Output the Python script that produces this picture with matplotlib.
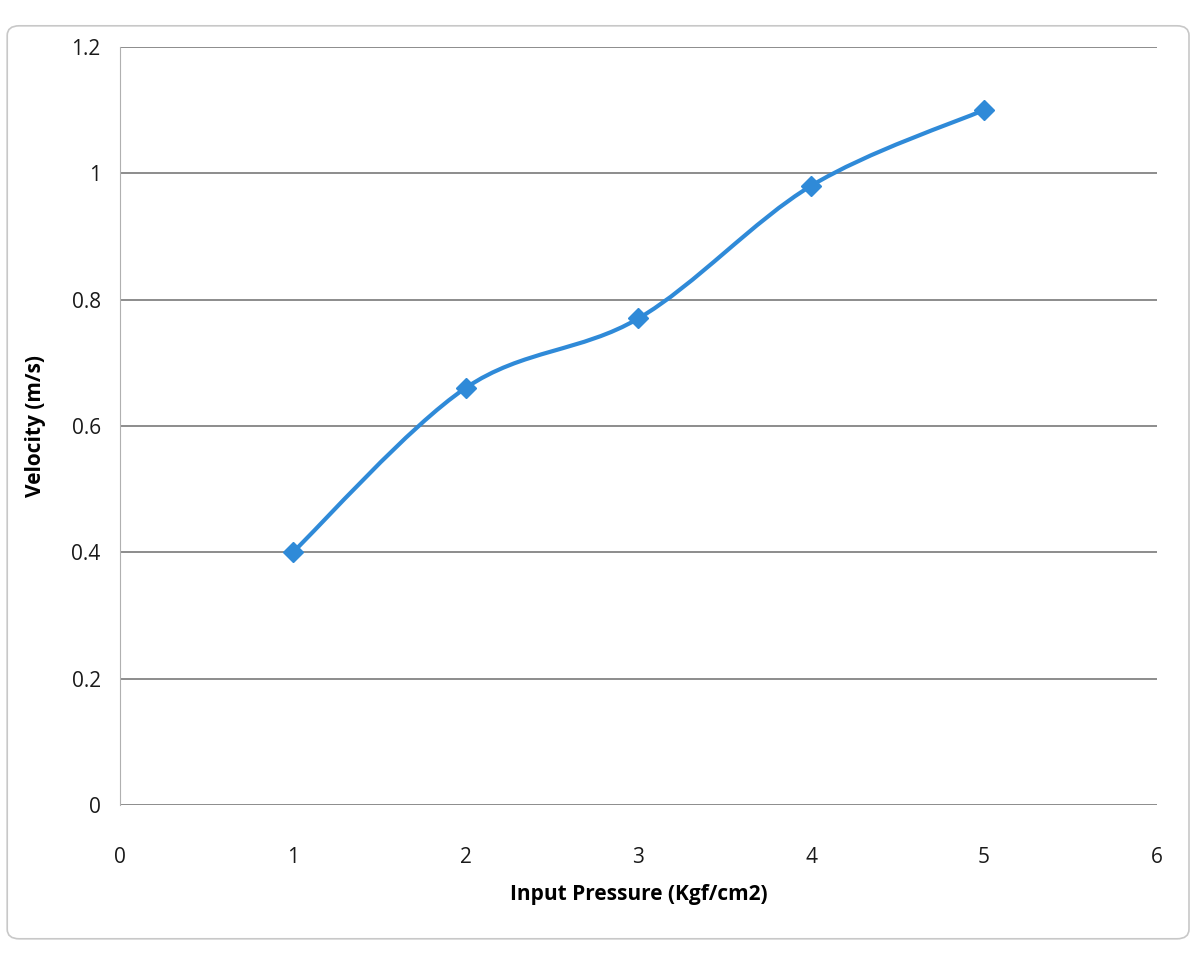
import matplotlib.pyplot as plt
from matplotlib.path import Path
from matplotlib.patches import PathPatch, FancyBboxPatch

pressure = [1, 2, 3, 4, 5]
velocity = [0.40, 0.66, 0.77, 0.98, 1.10]
x_ticks = [0, 1, 2, 3, 4, 5, 6]
y_ticks = [0, 0.2, 0.4, 0.6, 0.8, 1.0, 1.2]
y_tick_labels = ['0', '0.2', '0.4', '0.6', '0.8', '1', '1.2']

LINE_COLOR = '#2F8AD8'
plt.rcParams['font.family'] = ['Open Sans', 'DejaVu Sans']

fig = plt.figure(figsize=(12.01, 9.56), dpi=100)
ax = fig.add_axes([0.100, 0.158, 0.863, 0.793])

# light outer chart frame
fig.patches.append(FancyBboxPatch((0.006, 0.018), 0.984, 0.955,
                                  boxstyle='round,pad=0,rounding_size=0.01',
                                  transform=fig.transFigure, fill=False,
                                  edgecolor='#C8C8C8', linewidth=1.2))

# smoothed line through the points (bezier segments, catmull-rom style)
pts = list(zip(pressure, velocity))
verts = [pts[0]]
codes = [Path.MOVETO]
for i in range(len(pts) - 1):
    p0 = pts[i - 1] if i > 0 else pts[i]
    p1 = pts[i]
    p2 = pts[i + 1]
    p3 = pts[i + 2] if i + 2 < len(pts) else pts[i + 1]
    c1 = (p1[0] + (p2[0] - p0[0]) / 6, p1[1] + (p2[1] - p0[1]) / 6)
    c2 = (p2[0] - (p3[0] - p1[0]) / 6, p2[1] - (p3[1] - p1[1]) / 6)
    verts += [c1, c2, p2]
    codes += [Path.CURVE4] * 3
ax.add_patch(PathPatch(Path(verts, codes), fill=False, edgecolor=LINE_COLOR,
                       linewidth=3, zorder=3))
ax.plot(pressure, velocity, linestyle='none', marker='D', markersize=10,
        color=LINE_COLOR, zorder=4)

ax.set_xlim(0, 6)
ax.set_ylim(0, 1.2)
ax.set_xticks(x_ticks)
ax.set_yticks(y_ticks)
ax.set_yticklabels(y_tick_labels)
ax.grid(axis='y', color='#6E6E6E', linewidth=1.1)
ax.set_axisbelow(True)
for side in ['top', 'right', 'bottom']:
    ax.spines[side].set_visible(False)
ax.spines['left'].set_color('#B0B0B0')
ax.tick_params(length=0, labelsize=15, colors='#1A1A1A')
ax.tick_params(axis='x', pad=30)
ax.tick_params(axis='y', pad=14)

ax.set_xlabel('Input Pressure (Kgf/cm2)', fontsize=15, fontweight='bold', labelpad=12)
ax.set_ylabel('Velocity (m/s)', fontsize=15, fontweight='bold', labelpad=18)

fig.savefig('out.png', dpi=100)
